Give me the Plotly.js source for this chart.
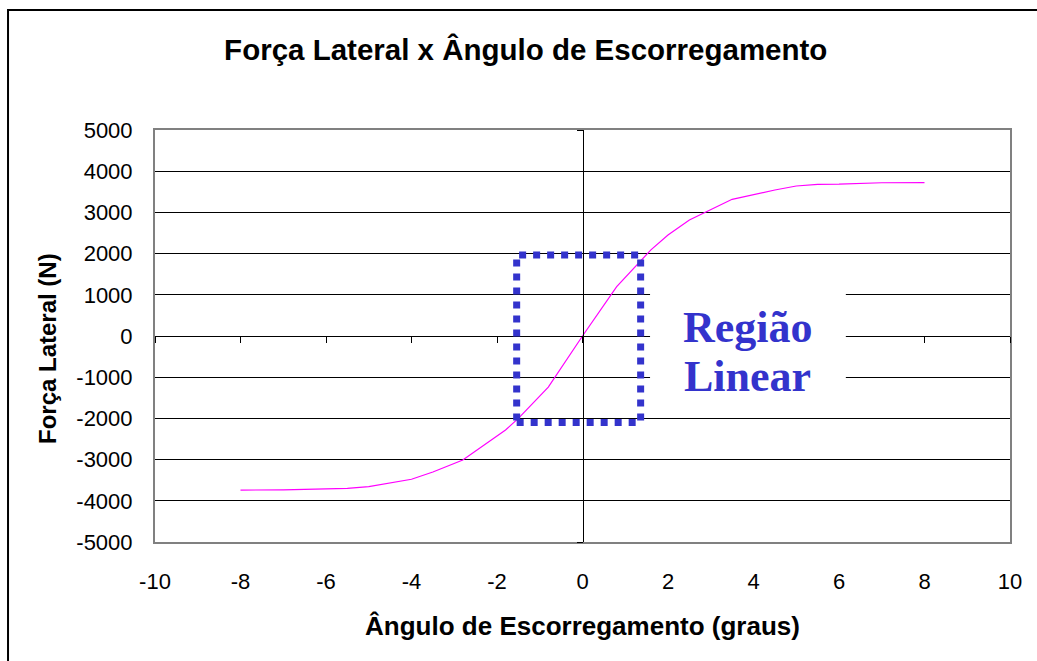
<!DOCTYPE html>
<html>
<head>
<meta charset="utf-8">
<script src="https://cdn.plot.ly/plotly-3.0.1.min.js"></script>
<style>html,body{margin:0;padding:0;background:#fff;}#chart{width:1037px;height:661px;}</style>
</head>
<body>
<div id="chart"></div>
<script>
// Slip angle (degrees)
const slipAngle = [-8, -7, -5.5, -5, -4, -3.5, -2.8, -2.4, -1.8, -1.5, -0.8, 0, 0.8, 1.6, 2, 2.5, 3.5, 4.5, 5, 5.5, 6, 7, 8];
// Lateral force (N)
const lateralForce = [-3740, -3735, -3697, -3657, -3478, -3300, -3010, -2726, -2282, -2000, -1240, 0, 1200, 2090, 2450, 2816, 3318, 3544, 3641, 3682, 3685, 3720, 3721];

const xTicks = [-10, -8, -6, -4, -2, 0, 2, 4, 6, 8, 10];
const yTicks = [-5000, -4000, -3000, -2000, -1000, 0, 1000, 2000, 3000, 4000, 5000];

const traces = [
  {
    x: slipAngle, y: lateralForce, type: 'scatter', mode: 'lines',
    line: {color: '#FF00FF', width: 1.2},
    showlegend: false, hoverinfo: 'x+y'
  },
  {
    x: [], y: [], type: 'scatter', mode: 'lines', xaxis: 'x2', yaxis: 'y2',
    showlegend: false, hoverinfo: 'skip'
  }
];

const layout = {
  width: 1037, height: 661,
  paper_bgcolor: '#ffffff', plot_bgcolor: '#ffffff',
  margin: {l: 155, r: 27, t: 130, b: 119},
  showlegend: false,
  title: {
    text: '<b>Força Lateral x Ângulo de Escorregamento</b>',
    font: {family: 'Liberation Sans, Arial, sans-serif', size: 29.5, color: '#000'},
    x: 0.507, xanchor: 'center', y: 0.925, yanchor: 'middle'
  },
  font: {family: 'Liberation Sans, Arial, sans-serif', color: '#000'},
  xaxis: {
    range: [-10, 10], tickvals: xTicks, ticktext: xTicks.map(String),
    showgrid: false, zeroline: false, ticks: '',
    showline: true, mirror: true, linecolor: '#808080', linewidth: 2,
    tickfont: {size: 22, color: '#000'}, ticklabelstandoff: 19,
    title: {text: '<b>Ângulo de Escorregamento (graus)</b>', font: {size: 26, color: '#000'}, standoff: 23}
  },
  yaxis: {
    range: [-5000, 5000], tickvals: yTicks, ticktext: yTicks.map(String),
    showgrid: true, gridcolor: '#000', gridwidth: 1, zeroline: false, ticks: '',
    showline: true, mirror: true, linecolor: '#808080', linewidth: 2,
    tickfont: {size: 22, color: '#000'}, ticklabelstandoff: 16
  },
  xaxis2: {
    overlaying: 'x', anchor: 'free', position: 0.5, side: 'bottom',
    range: [-10, 10], tickvals: xTicks, ticks: 'outside', ticklen: 6, tickcolor: '#000', tickwidth: 1,
    showticklabels: false, showgrid: false, zeroline: false,
    showline: true, linecolor: '#000', linewidth: 1
  },
  yaxis2: {
    overlaying: 'y', anchor: 'free', position: 0.5, side: 'left',
    range: [-5000, 5000], tickvals: yTicks, ticks: 'outside', ticklen: 6, tickcolor: '#000', tickwidth: 1,
    showticklabels: false, showgrid: false, zeroline: false,
    showline: true, linecolor: '#000', linewidth: 1
  },
  shapes: [
    {type: 'rect', xref: 'paper', yref: 'paper', x0: -0.1719, x1: 1.6, y0: -0.6, y1: 1.2913,
     line: {color: '#000', width: 2}, fillcolor: 'rgba(0,0,0,0)', layer: 'above'},
    {type: 'rect', xref: 'x', yref: 'y', x0: 1.58, x1: 6.16, y0: -1600, y1: 1300,
     line: {width: 0}, fillcolor: '#ffffff', layer: 'above'},
    {type: 'rect', xref: 'x', yref: 'y', x0: -1.54, x1: 1.36, y0: -2100, y1: 1966,
     line: {color: '#3333CC', width: 7, dash: '7px,7px'}, fillcolor: 'rgba(0,0,0,0)', layer: 'above'}
  ],
  annotations: [
    {text: '<b>Força Lateral (N)</b>', xref: 'paper', yref: 'paper', x: -0.1263, y: 0.4684,
     showarrow: false, textangle: -90, xanchor: 'center', yanchor: 'middle',
     font: {family: 'Liberation Sans, Arial, sans-serif', size: 24, color: '#000'}},
    {text: '<b>Região</b>', xref: 'x', yref: 'y', x: 3.87, y: 218, showarrow: false,
     xanchor: 'center', yanchor: 'middle',
     font: {family: 'Liberation Serif, Times New Roman, serif', size: 44, color: '#3333CC'}},
    {text: '<b>Linear</b>', xref: 'x', yref: 'y', x: 3.87, y: -995, showarrow: false,
     xanchor: 'center', yanchor: 'middle',
     font: {family: 'Liberation Serif, Times New Roman, serif', size: 44, color: '#3333CC'}}
  ]
};

Plotly.newPlot('chart', traces, layout, {displayModeBar: false, staticPlot: true});
</script>
</body>
</html>
